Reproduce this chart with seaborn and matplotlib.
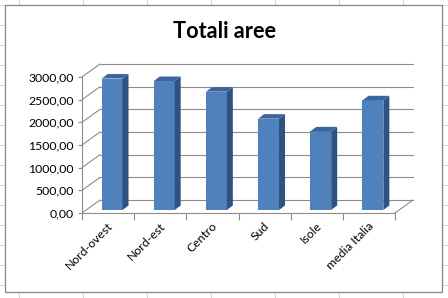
import numpy as np
import pandas as pd
import matplotlib
matplotlib.use('Agg')
import matplotlib.pyplot as plt
import seaborn as sns
from matplotlib.transforms import offset_copy, ScaledTranslation
from matplotlib.patches import Polygon, Rectangle
from matplotlib.ticker import FuncFormatter, FixedLocator

# ---- data ----
title = "Totali aree"
regions = ["Nord-ovest", "Nord-est", "Centro", "Sud", "Isole", "media Italia"]
totals = [2900, 2845, 2610, 2015, 1735, 2420]
y_ticks = [0, 500, 1000, 1500, 2000, 2500, 3000]

sns.set_theme(style='white')
plt.rcParams['font.family'] = ['Lato', 'DejaVu Sans']

W, H = 448, 298
fig = plt.figure(figsize=(W / 100, H / 100), dpi=100)
fig.patch.set_facecolor('white')

# spreadsheet background + chart area
bg = fig.add_axes([0, 0, 1, 1])
bg.set_xlim(0, W)
bg.set_ylim(H, 0)
bg.axis('off')
for cx in np.arange(18.5, W, 64):
    bg.axvline(cx, color='#d6d6d6', lw=0.72, zorder=1)
for ry in np.arange(4.5, H, 20):
    bg.axhline(ry, color='#d6d6d6', lw=0.72, zorder=1)
bg.add_patch(Rectangle((4.5, 4.5), 437, 287.5, facecolor='white',
                       edgecolor='#868686', lw=0.9, zorder=3))

GRID = '#8c8c8c'
LW = 0.8

# main axes = front plane of 3D box
ax = fig.add_axes([82 / W, (H - 213) / H, (395 - 82) / W, (213 - 77) / H])
ax.patch.set_alpha(0)
df = pd.DataFrame({'regione': regions, 'totale': totals})
sns.barplot(data=df, x='regione', y='totale', color='#4f81bd', saturation=1,
            width=0.40, ax=ax, zorder=5, linewidth=0)
x0, x1 = -0.5, len(regions) - 0.5
ax.set_xlim(x0, x1)
ax.set_ylim(y_ticks[0], y_ticks[-1])
ax.set_xlabel('')
ax.set_ylabel('')


def px(dx, dy):
    o = ax.transData.transform((0, 0))
    p = ax.transData.inverted().transform(o + np.array([dx, dy]))
    return p[0], p[1]


# back wall / floor
back = offset_copy(ax.transData, fig=fig, x=18, y=13, units='dots')
bx, by = px(18, 13)
gk = dict(color=GRID, lw=LW, clip_on=False, zorder=1)
for v in y_ticks:
    ax.plot([x0, x1], [v, v], transform=back, **gk)
    ax.plot([x0, x0 + bx], [v, v + by], **gk)
ax.plot([x1, x1 + bx], [0, by], **gk)

# bars: front face shifted into the box, plus side and top faces
front = offset_copy(ax.transData, fig=fig, x=4, y=3, units='dots')
dx, dy = px(6, 4.5)
for p in list(ax.patches):
    p.set_transform(front)
    p.set_clip_on(False)
    x, w, h = p.get_x(), p.get_width(), p.get_height()
    side = Polygon([(x + w, 0), (x + w + dx, dy), (x + w + dx, h + dy), (x + w, h)],
                   closed=True, facecolor='#2f5283', edgecolor='none',
                   transform=front, clip_on=False, zorder=5)
    top = Polygon([(x, h), (x + w, h), (x + w + dx, h + dy), (x + dx, h + dy)],
                  closed=True, facecolor='#3b659c', edgecolor='none',
                  transform=front, clip_on=False, zorder=5)
    ax.add_patch(side)
    ax.add_patch(top)

# axes styling
for s in ['top', 'right']:
    ax.spines[s].set_visible(False)
for s in ['left', 'bottom']:
    ax.spines[s].set_color(GRID)
    ax.spines[s].set_linewidth(LW)

ax.yaxis.set_major_locator(FixedLocator(y_ticks))
ax.yaxis.set_major_formatter(FuncFormatter(lambda v, _: f"{v:.2f}".replace('.', ',')))
ax.tick_params(axis='y', left=True, length=3, width=LW, color=GRID, pad=3,
               labelsize=8.8, labelcolor='black')

ax.set_xticks(range(len(regions)))
ax.set_xticklabels(regions, rotation=45, ha='right', va='center', rotation_mode='anchor')
ax.set_xticks(np.arange(x0, x1 + 0.01, 1), minor=True)
ax.tick_params(axis='x', which='major', bottom=False, length=0, pad=8,
               labelsize=8.8, labelcolor='black')
ax.tick_params(axis='x', which='minor', bottom=True, length=5, width=LW, color=GRID)
for lbl in ax.get_xticklabels():
    lbl.set_transform(lbl.get_transform() + ScaledTranslation(3 / 100, 0, fig.dpi_scale_trans))

fig.text(224 / W, (H - 38.3) / H, title, ha='center', va='baseline',
         fontsize=15.6, fontweight='bold', color='black')

fig.savefig('out.png', dpi=100)
